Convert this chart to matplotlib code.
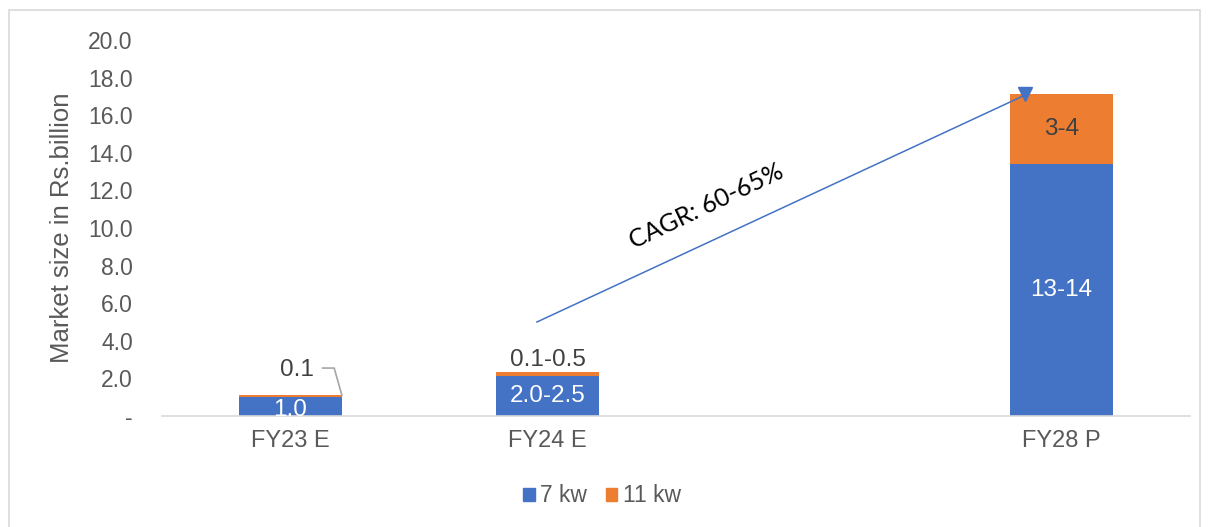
import matplotlib
matplotlib.use("Agg")
import matplotlib.pyplot as plt
from matplotlib.patches import Rectangle, Patch

categories = ["FY23 E", "FY24 E", "", "FY28 P"]
kw7 = [1.0, 2.15, 0.0, 13.4]
kw11 = [0.1, 0.18, 0.0, 3.73]
kw7_labels = ["1.0", "2.0-2.5", "", "13-14"]
kw11_labels = ["0.1", "0.1-0.5", "", "3-4"]
yticks = [0, 2, 4, 6, 8, 10, 12, 14, 16, 18, 20]
ytick_labels = ["-"] + [f"{v:.1f}" for v in yticks[1:]]

BLUE = "#4472C4"
ORANGE = "#ED7D31"
GRAY = "#595959"

plt.rcParams["font.family"] = ["Liberation Sans", "DejaVu Sans"]

fig = plt.figure(figsize=(12.08, 5.27), dpi=100)
ax = fig.add_axes([162/1208, 1-416/527, (1190-162)/1208, (416-40)/527])

x = list(range(len(categories)))
w = 0.40
present = [i for i, c in enumerate(categories) if c]
bx = [x[i] for i in present]
ax.bar(bx, [kw7[i] for i in present], width=w, color=BLUE, label="7 kw", zorder=2)
ax.bar(bx, [kw11[i] for i in present], width=w, bottom=[kw7[i] for i in present],
       color=ORANGE, label="11 kw", zorder=2)

ax.set_xlim(-0.5, 3.5)
ax.set_ylim(0, 20)
ax.set_yticks(yticks)
ax.set_yticklabels(ytick_labels)
ax.set_xticks(bx)
ax.set_xticklabels([categories[i] for i in present])
ax.tick_params(axis="y", length=0, pad=21, labelsize=16.5, labelcolor=GRAY)
ax.tick_params(axis="x", length=0, pad=10, labelsize=17, labelcolor=GRAY)
for s in ["top", "right", "left"]:
    ax.spines[s].set_visible(False)
ax.spines["bottom"].set_color("#D9D9D9")
ax.spines["bottom"].set_linewidth(1.2)
ax.set_ylabel("Market size in Rs.billion", fontsize=18.5, color=GRAY, labelpad=10)

LBL = 17.5
for i in present:
    if kw7_labels[i]:
        ax.text(x[i], kw7[i] / 2 if i != 0 else 0.32, kw7_labels[i], ha="center", va="center",
                color="white", fontsize=LBL, zorder=3, clip_on=True)
i0 = 0
ax.text(x[i0] + 0.025, 2.45, kw11_labels[i0], ha="center", va="center", color="#404040", fontsize=LBL)
ax.plot([x[i0] + 0.125, x[i0] + 0.17, x[i0] + 0.2], [2.55, 2.55, kw7[i0] + kw11[i0]],
        color="#A6A6A6", lw=1.2, zorder=3)
ax.text(x[1], 3.0, kw11_labels[1], ha="center", va="center", color="#404040", fontsize=LBL)
ax.text(x[3], kw7[3] + kw11[3] / 2, kw11_labels[3], ha="center", va="center",
        color="#404040", fontsize=LBL, zorder=3)

# CAGR arrow
x0, y0, x1, y1 = 0.959, 5.0, 2.858, 17.07
ax.plot([x0, x1], [y0, y1], color=BLUE, lw=1.1, zorder=4, clip_on=False)
ax.plot([x1], [y1 + 0.05], marker="v", color=BLUE, markersize=10, zorder=4, clip_on=False)
ax.text(1.617, 11.17, "CAGR: 60-65%", rotation=25.5, ha="center", va="center",
        fontsize=18, color="black", family=["Lato", "DejaVu Sans"], rotation_mode="anchor")

fig.legend(handles=[Patch(color=BLUE, label="7 kw"), Patch(color=ORANGE, label="11 kw")],
           loc="center", bbox_to_anchor=(602/1208, 1-496/527), ncol=2, frameon=False,
           fontsize=16.5, handlelength=0.5, handleheight=0.5, handletextpad=0.25,
           columnspacing=0.8, labelcolor=GRAY)

fig.patches.append(Rectangle((9/1208, -0.01), (1200-9)/1208, 1-10/527 + 0.01,
                             transform=fig.transFigure, fill=False, edgecolor="#D9D9D9", lw=1.2))

fig.savefig("out.png", dpi=100)
